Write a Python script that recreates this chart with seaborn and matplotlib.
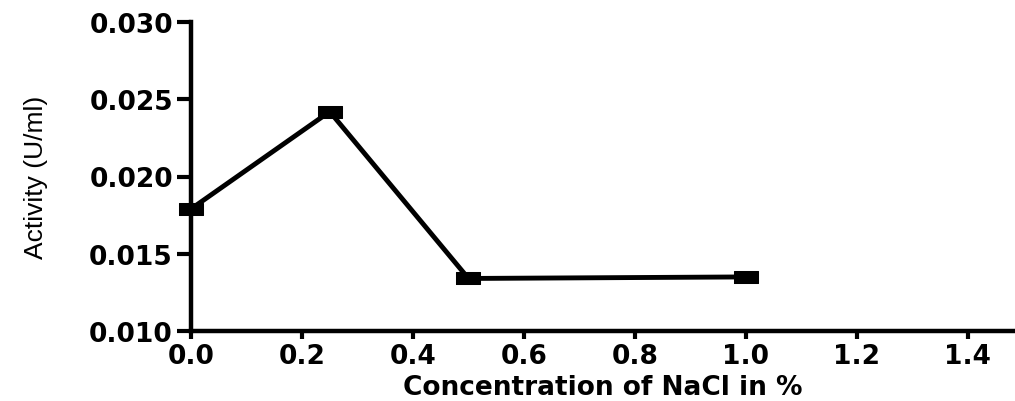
import matplotlib
matplotlib.use("Agg")
import matplotlib.pyplot as plt
import seaborn as sns
import pandas as pd

nacl = [0.0, 0.25, 0.5, 1.0]
activity = [0.0179, 0.0242, 0.0134, 0.0135]
x_ticks = [0.0, 0.2, 0.4, 0.6, 0.8, 1.0, 1.2, 1.4]
y_ticks = [0.010, 0.015, 0.020, 0.025, 0.030]

sns.set_style("ticks")
plt.rcParams['font.family'] = ['DejaVu Sans']
plt.rcParams['text.color'] = 'black'
plt.rcParams['axes.labelcolor'] = 'black'

df = pd.DataFrame({"x": nacl, "y": activity})

fig = plt.figure(figsize=(10.15, 4.02), dpi=100)
ax = fig.add_axes([191/1015, 1 - 332/402, 1 - 191/1015, (332 - 23)/402])

rect = [(-1, -0.55), (1, -0.55), (1, 0.55), (-1, 0.55), (-1, -0.55)]
sns.lineplot(data=df, x="x", y="y", ax=ax, color="black", linewidth=3.5,
             marker=rect, markersize=17, markerfacecolor="black",
             markeredgecolor="black", clip_on=False)

ax.set_xlim(0, 1.485)
ax.set_ylim(0.010, 0.030)
ax.set_xticks(x_ticks)
ax.set_yticks(y_ticks)
ax.set_xticklabels([f"{v:.1f}" for v in x_ticks], fontsize=19, fontweight="bold")
ax.set_yticklabels([f"{v:.3f}" for v in y_ticks], fontsize=19, fontweight="bold")

for side in ["top", "right"]:
    ax.spines[side].set_visible(False)
for side in ["left", "bottom"]:
    ax.spines[side].set_linewidth(3.2)
    ax.spines[side].set_color("black")
ax.tick_params(axis="y", length=10, width=3, pad=3, colors="black")
ax.tick_params(axis="x", length=6, width=3, pad=3, colors="black")

ax.set_xlabel("Concentration of NaCl in %", fontsize=19, fontweight="bold", labelpad=3)
ax.set_ylabel("Activity (U/ml)", fontsize=19, family=["Liberation Sans", "DejaVu Sans"],
              fontweight="medium", labelpad=30)

fig.savefig("out.png", dpi=100)
